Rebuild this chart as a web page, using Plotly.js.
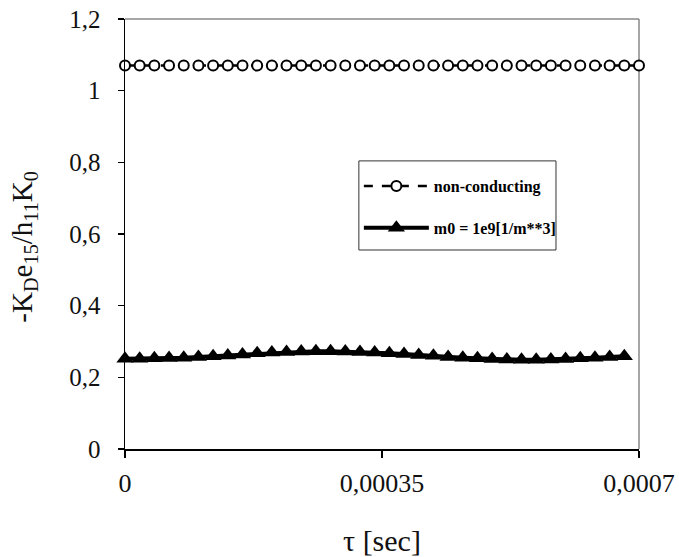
<!DOCTYPE html>
<html>
<head>
<meta charset="utf-8">
<script src="https://cdn.plot.ly/plotly-3.0.1.min.js"></script>
<style>html,body{margin:0;padding:0;background:#fff}#chart{width:679px;height:557px}</style>
</head>
<body>
<div id="chart"></div>
<script>
// time values [sec]
const tauNonConducting = [0,0.00002,0.00004,0.00006,0.00008,0.0001,0.00012,0.00014,0.00016,0.00018,0.0002,0.00022,0.00024,0.00026,0.00028,0.0003,0.00032,0.00034,0.00036,0.00038,0.0004,0.00042,0.00044,0.00046,0.00048,0.0005,0.00052,0.00054,0.00056,0.00058,0.0006,0.00062,0.00064,0.00066,0.00068,0.0007];
const valNonConducting = [1.07,1.07,1.07,1.07,1.07,1.07,1.07,1.07,1.07,1.07,1.07,1.07,1.07,1.07,1.07,1.07,1.07,1.07,1.07,1.07,1.07,1.07,1.07,1.07,1.07,1.07,1.07,1.07,1.07,1.07,1.07,1.07,1.07,1.07,1.07,1.07];
const tauConducting = [0,0.00002,0.00004,0.00006,0.00008,0.0001,0.00012,0.00014,0.00016,0.00018,0.0002,0.00022,0.00024,0.00026,0.00028,0.0003,0.00032,0.00034,0.00036,0.00038,0.0004,0.00042,0.00044,0.00046,0.00048,0.0005,0.00052,0.00054,0.00056,0.00058,0.0006,0.00062,0.00064,0.00066,0.00068];
const valConducting = [0.252,0.252,0.253,0.254,0.255,0.257,0.259,0.261,0.264,0.267,0.269,0.271,0.272,0.273,0.273,0.272,0.271,0.269,0.267,0.265,0.262,0.260,0.257,0.255,0.253,0.251,0.250,0.249,0.249,0.250,0.251,0.253,0.255,0.257,0.259];
const seriesNames = ["non-conducting", "m0 = 1e9[1/m**3]"];
const xTickVals = [0, 0.00035, 0.0007];
const xTickText = ["0", "0,00035", "0,0007"];
const yTickVals = [0, 0.2, 0.4, 0.6, 0.8, 1, 1.2];
const yTickText = ["0", "0,2", "0,4", "0,6", "0,8", "1", "1,2"];
const xTitle = "τ [sec]";
const yTitle = "-K<sub>D</sub>e<sub>15</sub>/h<sub>11</sub>K<sub>0</sub>";

const serif = "Liberation Serif, Times New Roman, serif";

const traces = [
  {
    x: tauNonConducting, y: valNonConducting, name: seriesNames[0],
    type: "scatter", mode: "lines+markers", legendgroup: "a",
    line: {color: "#000", width: 2.5, dash: "dash"},
    marker: {symbol: "circle", size: 10, color: "#fff", line: {color: "#000", width: 2}},
    cliponaxis: false
  },
  {
    x: tauConducting, y: valConducting, name: seriesNames[1],
    type: "scatter", mode: "lines+markers", legendgroup: "b",
    line: {color: "#000", width: 4},
    marker: {symbol: "triangle-up", size: 15, color: "#000", line: {color: "#000", width: 0}},
    cliponaxis: false
  }
];

const layout = {
  width: 679, height: 557,
  margin: {l: 125, r: 40, t: 19, b: 108},
  paper_bgcolor: "#fff", plot_bgcolor: "#fff",
  separators: ", ",
  font: {family: serif, color: "#111", size: 18},
  showlegend: true,
  legend: {
    x: 0.455, y: 0.651, xanchor: "left", yanchor: "top",
    borderwidth: 0, bgcolor: "rgba(0,0,0,0)",
    font: {family: serif, size: 16, color: "#000", weight: "bold"},
    itemwidth: 65, tracegroupgap: 18, traceorder: "grouped"
  },
  xaxis: {
    range: [0, 0.0007], tickmode: "array", tickvals: xTickVals, ticktext: xTickText,
    showgrid: false, zeroline: false, showline: true, linecolor: "#000", linewidth: 1.5,
    ticks: "outside", ticklen: 7, tickcolor: "#000", tickwidth: 1.5,
    ticklabelstandoff: 3,
    tickfont: {family: serif, size: 26, color: "#111"},
    title: {text: xTitle, font: {family: serif, size: 30, color: "#111"}, standoff: 37}
  },
  yaxis: {
    range: [0, 1.2], tickmode: "array", tickvals: yTickVals, ticktext: yTickText,
    showgrid: false, zeroline: false, showline: true, linecolor: "#000", linewidth: 1.5,
    ticks: "outside", ticklen: 6, tickcolor: "#000", tickwidth: 1.5,
    ticklabelstandoff: 12,
    tickfont: {family: serif, size: 25, color: "#111"}
  },
  annotations: [
    {text: yTitle, xref: "paper", yref: "paper", x: -0.197, y: 0.47, xanchor: "center", yanchor: "middle",
     textangle: -90, showarrow: false, font: {family: serif, size: 29, color: "#111"}}
  ],
  shapes: [
    {type: "line", xref: "paper", yref: "paper", x0: 0, x1: 1, y0: 1, y1: 1, line: {color: "#888", width: 1.5}, layer: "below"},
    {type: "line", xref: "paper", yref: "paper", x0: 1, x1: 1, y0: 0, y1: 1, line: {color: "#888", width: 1.5}, layer: "below"},
    {type: "rect", xref: "paper", yref: "paper", x0: 0.455, x1: 0.8385, y0: 0.4628, y1: 0.670, line: {color: "#333", width: 1}, fillcolor: "rgba(0,0,0,0)", layer: "above"}
  ]
};

Plotly.newPlot("chart", traces, layout, {displayModeBar: false, staticPlot: true});
</script>
</body>
</html>
